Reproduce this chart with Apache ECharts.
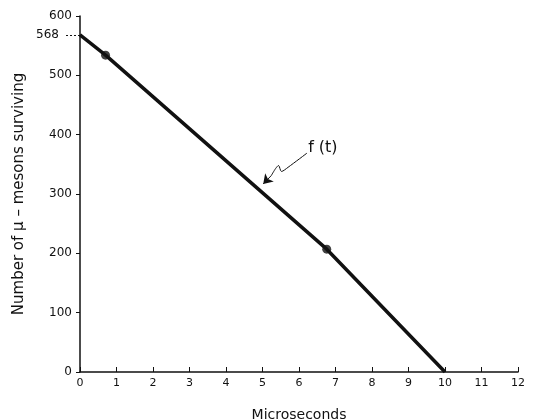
<!DOCTYPE html>
<html>
<head>
<meta charset="utf-8">
<script src="https://cdn.jsdelivr.net/npm/echarts@6/dist/echarts.min.js"></script>
<style>
html,body{margin:0;padding:0;background:#fff;}
#c{width:543px;height:420px;}
</style>
</head>
<body>
<div id="c"></div>
<script>
// ---- data ----
const xTickValues = [0,1,2,3,4,5,6,7,8,9,10,11,12];
const yTickValues = [0,100,200,300,400,500,600];
const timeMicroseconds = [0, 0.70, 6.76, 10];
const mesonsSurviving = [568, 534, 207, 0];
const measuredTimes = [0.70, 6.76];
const measuredCounts = [534, 207];
const markedValue = [568];
// annotation arrow "f(t)" path in data coordinates
const arrowX = [6.22, 5.70, 5.52, 5.44, 5.36, 5.24];
const arrowY = [369, 345, 338, 348, 343, 331];
const arrowTip = [5.02, 317];
const labelPos = [6.25, 378];
const labelText = 'f (t)';

const FONT = 'DejaVu Sans';
const INK = '#111';

const chart = echarts.init(document.getElementById('c'), null, {renderer:'canvas'});

const linePts = timeMicroseconds.map((t,i)=>[t, mesonsSurviving[i]]);
const dotPts = measuredTimes.map((t,i)=>[t, measuredCounts[i]]);
const arrowPts = arrowX.map((x,i)=>[x, arrowY[i]]);

chart.setOption({
  animation:false,
  backgroundColor:'#fff',
  grid:{left:80, right:25, top:16, bottom:48, containLabel:false, outerBoundsMode:'none'},
  xAxis:{
    type:'value', min:0, max:12, interval:1,
    name:'Microseconds', nameLocation:'middle', nameGap:36,
    nameTextStyle:{fontFamily:FONT, fontSize:14, color:INK},
    axisLine:{show:true, lineStyle:{color:INK, width:1.5}},
    axisTick:{show:true, inside:true, length:5, lineStyle:{color:INK, width:1}},
    axisLabel:{fontFamily:FONT, fontSize:11, color:INK, margin:6,
      formatter:v=> xTickValues.includes(v) ? String(v) : ''},
    splitLine:{show:false}
  },
  yAxis:[{
    type:'value', min:0, max:600, interval:100,
    name:'Number of μ – mesons surviving', nameLocation:'middle', nameGap:53,
    nameTextStyle:{fontFamily:FONT, fontSize:15, color:INK},
    axisLine:{show:true, lineStyle:{color:INK, width:1.5}},
    axisTick:{show:true, length:4, lineStyle:{color:INK, width:1}},
    axisLabel:{fontFamily:FONT, fontSize:12, color:INK, margin:8,
      formatter:v=> yTickValues.includes(v) ? String(v) : ''},
    splitLine:{show:false}
  },{
    type:'value', min:0, max:600, position:'left',
    axisLine:{show:false},
    axisTick:{show:true, length:16, customValues:markedValue,
      lineStyle:{color:INK, width:1, type:[2,2]}},
    axisLabel:{show:true, customValues:markedValue, fontFamily:FONT, fontSize:12, color:INK, margin:21},
    splitLine:{show:false}
  }],
  series:[{
    type:'line', data:linePts, showSymbol:false, symbol:'none',
    lineStyle:{color:INK, width:3.5}, z:3
  },{
    type:'scatter', data:dotPts, symbol:'circle', symbolSize:9,
    itemStyle:{color:INK}, z:4
  },{
    type:'line', data:arrowPts, symbol:'none', smooth:0.3,
    lineStyle:{color:INK, width:1}, z:5,
    markLine:{
      silent:true, symbol:['none','arrow'], symbolSize:9,
      label:{show:false},
      lineStyle:{color:INK, width:1, type:'solid'},
      emphasis:{disabled:true},
      data:[[{coord:arrowPts[arrowPts.length-1]},{coord:arrowTip}]]
    },
    markPoint:{
      silent:true, symbol:'circle', symbolSize:0,
      data:[{coord:labelPos}],
      label:{show:true, formatter:labelText, position:'right', distance:0,
        fontFamily:FONT, fontSize:16, color:INK}
    }
  }]
});
</script>
</body>
</html>
